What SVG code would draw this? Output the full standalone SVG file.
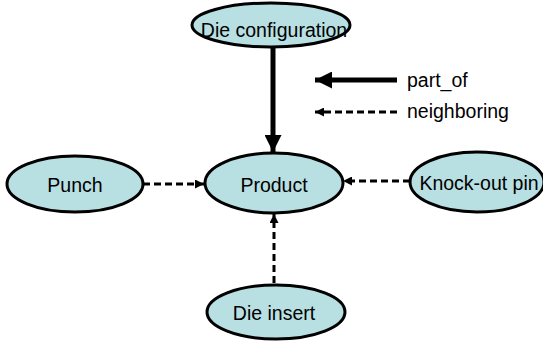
<svg xmlns="http://www.w3.org/2000/svg" width="543" height="345" viewBox="0 0 543 345">
  <style>
    .node ellipse { fill: #b8dfe2; stroke: #000; stroke-width: 3; }
    text { font-family: "Liberation Sans", Arial, sans-serif; font-size: 19.5px; fill: #000; }
    .node text { text-anchor: middle; }
    .part { stroke: #000; stroke-width: 5; fill: none; }
    .nb { stroke: #000; stroke-width: 3; stroke-dasharray: 7 4; fill: none; }
  </style>
  <defs>
    <marker id="headBig" viewBox="0 0 10 10" refX="10" refY="5" markerWidth="17" markerHeight="17" markerUnits="userSpaceOnUse" orient="auto">
      <path d="M0,0 L10,5 L0,10 z" fill="#000"/>
    </marker>
    <marker id="headSmall" viewBox="0 0 10 10" refX="10" refY="5" markerWidth="10" markerHeight="9" markerUnits="userSpaceOnUse" orient="auto">
      <path d="M0,0 L10,5 L0,10 z" fill="#000"/>
    </marker>
  </defs>

  <rect width="543" height="345" fill="#fff"/>

  <!-- connectors -->
  <g id="connectors">
    <line class="part" x1="273" y1="47" x2="273" y2="152" marker-end="url(#headBig)"/>
    <line class="nb" x1="143" y1="184" x2="204" y2="184" marker-end="url(#headSmall)"/>
    <line class="nb" x1="410" y1="181" x2="343" y2="181" marker-end="url(#headSmall)"/>
    <line class="nb" x1="274" y1="283" x2="274" y2="214" marker-end="url(#headSmall)"/>
  </g>

  <!-- legend -->
  <g id="legend">
    <line class="part" x1="397" y1="80" x2="315" y2="80" marker-end="url(#headBig)"/>
    <text x="407" y="87">part_of</text>
    <line class="nb" x1="397" y1="112" x2="315" y2="112" marker-end="url(#headSmall)"/>
    <text x="407" y="118">neighboring</text>
  </g>

  <!-- nodes -->
  <g id="die-configuration" class="node">
    <ellipse cx="271" cy="25" rx="79" ry="22"/>
    <text x="274" y="37">Die configuration</text>
  </g>
  <g id="punch" class="node">
    <ellipse cx="75" cy="184" rx="68" ry="28"/>
    <text x="75" y="192">Punch</text>
  </g>
  <g id="product" class="node">
    <ellipse cx="274" cy="183" rx="69" ry="30"/>
    <text x="274" y="192">Product</text>
  </g>
  <g id="knock-out-pin" class="node">
    <ellipse cx="477" cy="182" rx="67" ry="30"/>
    <text x="479" y="190">Knock-out pin</text>
  </g>
  <g id="die-insert" class="node">
    <ellipse cx="276" cy="312" rx="69" ry="27"/>
    <text x="274" y="320">Die insert</text>
  </g>
</svg>
